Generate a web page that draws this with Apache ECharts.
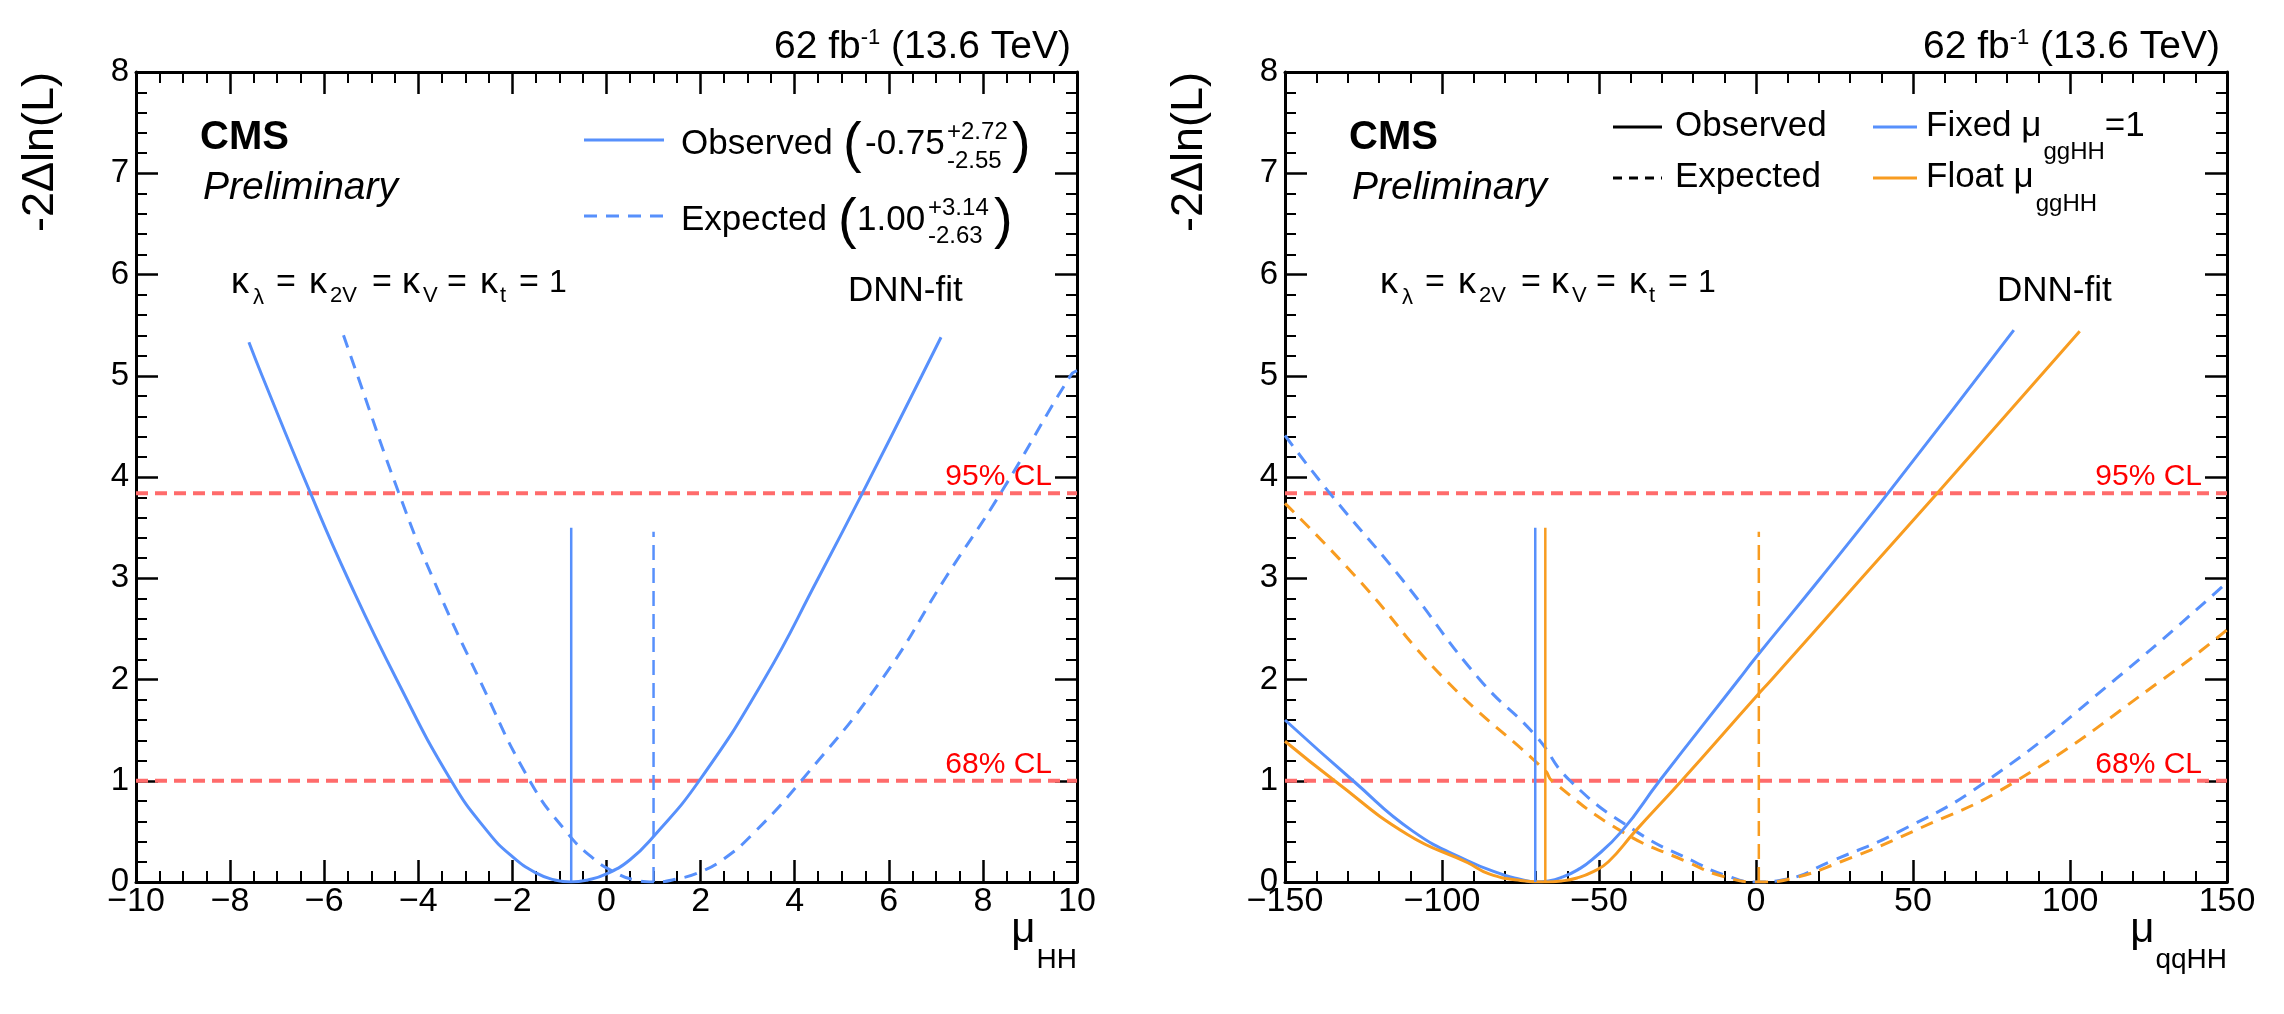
<!DOCTYPE html>
<html>
<head>
<meta charset="utf-8">
<script src="https://cdn.jsdelivr.net/npm/echarts@6/dist/echarts.min.js"></script>
<style>
html,body{margin:0;padding:0;background:#fff;}
#chart{width:2284px;height:1014px;}
</style>
</head>
<body>
<div id="chart"></div>
<script>
// ---------------- data ----------------
const CL_LEVELS = [1.0, 3.84];
const CL_LABELS = ['68% CL', '95% CL'];

// Left panel: mu_HH scan
const hhObsX = [-7.60, -7.32, -6.30, -5.50, -4.46, -3.30, -2.53, -2.00, -1.50, -1.10, -0.75, -0.40, 0.00, 0.50, 1.00, 1.97, 3.35, 4.50, 5.45, 6.70, 7.11];
const hhObsY = [5.33, 5.00, 3.85, 3.00, 2.00, 1.00, 0.50, 0.25, 0.09, 0.02, 0.00, 0.02, 0.08, 0.22, 0.45, 1.00, 2.00, 3.00, 3.85, 5.00, 5.38];
const hhExpX = [-5.59, -5.29, -4.42, -3.69, -2.70, -1.63, -0.86, -0.30, 0.20, 0.60, 1.00, 1.50, 2.00, 2.50, 3.10, 4.14, 5.85, 7.20, 8.39, 9.86, 10.00];
const hhExpY = [5.40, 5.00, 3.85, 3.00, 2.00, 1.00, 0.50, 0.24, 0.09, 0.02, 0.00, 0.03, 0.10, 0.23, 0.47, 1.00, 2.00, 3.00, 3.85, 5.00, 5.05];
const hhBestObs = -0.75;
const hhBestExp = 1.00;

// Right panel: mu_qqHH scan
const qqFixObsX = [-150, -128.3, -109.2, -91.8, -80.1, -75.5, -70.3, -66.1, -61.5, -56.8, -52.2, -42.8, -30.7, -5.5, 0, 20.5, 42.3, 82.1];
const qqFixObsY = [1.60, 1.00, 0.50, 0.21, 0.067, 0.03, 0.00, 0.01, 0.05, 0.12, 0.22, 0.50, 1.00, 2.00, 2.22, 3.00, 3.85, 5.45];
const qqFloObsX = [-150, -134.2, -111.0, -91.8, -85.0, -75.0, -67.1, -62.0, -57.0, -52.0, -47.0, -38.5, -23.7, 0, 5.0, 33.6, 58.0, 103.1];
const qqFloObsY = [1.39, 1.00, 0.47, 0.19, 0.08, 0.015, 0.00, 0.01, 0.04, 0.10, 0.20, 0.50, 1.00, 1.83, 2.00, 3.00, 3.85, 5.44];
const qqFixExpX = [-150, -136, -113, -88, -70.3, -59.2, -38.2, -19.6, -10, 0, 10, 23.5, 45.7, 73.6, 114.4, 150];
const qqFixExpY = [4.41, 3.85, 3.00, 2.00, 1.45, 1.00, 0.50, 0.20, 0.07, 0.00, 0.03, 0.20, 0.50, 1.00, 2.00, 2.96];
const qqFloExpX = [-150, -127, -99, -67.1, -65, -42.8, -22, -10, 1, 12, 27, 50, 83, 129.5, 150];
const qqFloExpY = [3.74, 3.00, 2.00, 1.10, 1.00, 0.50, 0.20, 0.05, 0.00, 0.04, 0.20, 0.50, 1.00, 2.00, 2.49];
const qqBestFixObs = -70.3;
const qqBestFloObs = -67.1;
const qqBestExp = 0.9;

const VLINE_TOP_OBS = 3.5;
const VLINE_TOP_EXP = 3.46;

const leftXRange = [-10, 10, 2];
const rightXRange = [-150, 150, 50];
const yRange = [0, 8, 1];

// ---------------- style ----------------
const FONT = "'Liberation Sans', Arial, Helvetica, sans-serif";
const BLUE = '#5790fc';
const ORANGE = '#f89c20';
const CLCOL = '#ff6b6b';
const pairs = (xs, ys) => xs.map((x, i) => [x, ys[i]]);
const fmtMinus = v => (v < 0 ? '\u2212' + Math.abs(v) : String(v));

const chart = echarts.init(document.getElementById('chart'), null, {renderer: 'canvas'});

function xAx(grid, range, pos, minorSplit) {
  return {
    type: 'value', gridIndex: grid, position: pos,
    min: range[0], max: range[1], interval: range[2],
    axisLine: {show: true, onZero: false, lineStyle: {color: '#000', width: 3}},
    axisTick: {show: true, inside: true, length: 22, lineStyle: {color: '#000', width: 2.5}},
    minorTick: {show: true, splitNumber: minorSplit, length: 11, lineStyle: {color: '#000', width: 2}},
    splitLine: {show: false}, minorSplitLine: {show: false},
    axisLabel: {show: pos === 'bottom', fontSize: 34, color: '#000', fontFamily: FONT, margin: 3, formatter: fmtMinus}
  };
}
function yAx(grid, pos) {
  return {
    type: 'value', gridIndex: grid, position: pos,
    min: yRange[0], max: yRange[1], interval: yRange[2],
    axisLine: {show: true, onZero: false, lineStyle: {color: '#000', width: 3}},
    axisTick: {show: true, inside: true, length: 22, lineStyle: {color: '#000', width: 2.5}},
    minorTick: {show: true, splitNumber: 5, length: 11, lineStyle: {color: '#000', width: 2}},
    splitLine: {show: false}, minorSplitLine: {show: false},
    axisLabel: {show: pos === 'left', fontSize: 33, color: '#000', fontFamily: FONT, margin: 7}
  };
}
function lineSeries(xi, yi, data, color, width, dash, smooth) {
  return {
    type: 'line', xAxisIndex: xi, yAxisIndex: yi, data: data,
    showSymbol: false, symbol: 'none', smooth: smooth ? 0.5 : false,
    lineStyle: {color: color, width: width, type: dash || 'solid'},
    silent: true, animation: false
  };
}

const series = [];
// left panel
CL_LEVELS.forEach(l => series.push(lineSeries(0, 0, [[leftXRange[0], l], [leftXRange[1], l]], CLCOL, 4, [12, 7])));
series.push(lineSeries(0, 0, pairs(hhExpX, hhExpY), BLUE, 3, [13, 9], true));
series.push(lineSeries(0, 0, pairs(hhObsX, hhObsY), BLUE, 3, 'solid', true));
series.push(lineSeries(0, 0, [[hhBestObs, 0], [hhBestObs, VLINE_TOP_OBS]], BLUE, 2.5));
series.push(lineSeries(0, 0, [[hhBestExp, 0], [hhBestExp, VLINE_TOP_EXP]], BLUE, 2.5, [15, 8]));
// right panel
CL_LEVELS.forEach(l => series.push(lineSeries(2, 2, [[rightXRange[0], l], [rightXRange[1], l]], CLCOL, 4, [12, 7])));
series.push(lineSeries(2, 2, pairs(qqFixExpX, qqFixExpY), BLUE, 3, [13, 9], true));
series.push(lineSeries(2, 2, pairs(qqFloExpX, qqFloExpY), ORANGE, 3, [13, 9], true));
series.push(lineSeries(2, 2, pairs(qqFixObsX, qqFixObsY), BLUE, 3, 'solid', true));
series.push(lineSeries(2, 2, pairs(qqFloObsX, qqFloObsY), ORANGE, 3, 'solid', true));
series.push(lineSeries(2, 2, [[qqBestFixObs, 0], [qqBestFixObs, VLINE_TOP_OBS]], BLUE, 2.5));
series.push(lineSeries(2, 2, [[qqBestFloObs, 0], [qqBestFloObs, VLINE_TOP_OBS]], ORANGE, 2.5));
series.push(lineSeries(2, 2, [[qqBestExp, 0], [qqBestExp, VLINE_TOP_EXP]], ORANGE, 2.5, [15, 8]));

// ---------------- text helpers ----------------
const mctx = document.createElement('canvas').getContext('2d');
function tw(text, size, weight, style) {
  mctx.font = (style || 'normal') + ' ' + (weight || 'normal') + ' ' + size + 'px ' + FONT;
  return mctx.measureText(text).width;
}
function T(x, y, text, size, o) {
  o = o || {};
  return {
    type: 'text', x: x, y: y, rotation: o.rotation || 0, silent: true,
    style: {
      text: text, fontSize: size, fontFamily: FONT, fill: o.fill || '#000',
      fontWeight: o.weight || 'normal', fontStyle: o.style || 'normal',
      align: o.align || 'left', verticalAlign: 'middle'
    }
  };
}
function L(x1, y1, x2, y2, color, width, dash) {
  return {type: 'line', silent: true, shape: {x1: x1, y1: y1, x2: x2, y2: y2},
    style: {stroke: color, lineWidth: width, lineDash: dash || null}};
}

const G = [];
function panelText(dx, right, xSub, frameRight) {
  // lumi title
  const t2 = ' (13.6 TeV)', t1 = '62 fb', sup = '-1';
  const x2 = right - tw(t2, 39);
  G.push(T(x2, 47.5, t2, 39));
  const xs = x2 - tw(sup, 22);
  G.push(T(xs, 38, sup, 22));
  G.push(T(xs, 47.5, t1, 39, {align: 'right'}));
  // CMS Preliminary
  G.push(T(200 + dx, 138, 'CMS', 40, {weight: 'bold'}));
  G.push(T(203 + dx, 188, 'Preliminary', 39, {style: 'italic'}));
  // kappa text
  const kap = [
    [231, 283, '\u03ba', 36], [253, 298, '\u03bb', 22], [276, 283, '=', 34],
    [309, 283, '\u03ba', 36], [330, 296, '2V', 22], [372, 283, '=', 34],
    [402, 283, '\u03ba', 36], [423, 296, 'V', 22], [447, 283, '=', 34],
    [480, 283, '\u03ba', 36], [500, 296, 't', 22], [519, 283, '=', 34],
    [549, 283, '1', 32]
  ];
  kap.forEach(k => G.push(T(k[0] + dx, k[1], k[2], k[3])));
  G.push(T(848 + dx, 291, 'DNN-fit', 35));
  // y title
  G.push(T(41 + dx, 72, '-2\u0394ln(L)', 45, {rotation: Math.PI / 2, align: 'right'}));
  // x title (right aligned to the axis end)
  const xsub = frameRight - tw(xSub, 28);
  G.push(T(xsub, 960, xSub, 28));
  G.push(T(xsub - 1, 930, '\u03bc', 42, {align: 'right'}));
}
panelText(0, 1071, 'HH', 1077);
panelText(1149, 2220, 'qqHH', 2227);

// left legend
G.push(L(584, 140, 664, 140, BLUE, 3));
G.push(T(681, 144.5, 'Observed', 35));
G.push(T(843, 146, '(', 56));
G.push(T(865, 144.5, '-0.75', 35));
G.push(T(947, 132, '+2.72', 24));
G.push(T(947, 161, '-2.55', 24));
G.push(T(1012, 146, ')', 56));
G.push(L(584, 216, 664, 216, BLUE, 3, [13, 9]));
G.push(T(681, 220, 'Expected', 35));
G.push(T(838, 222, '(', 56));
G.push(T(857, 220, '1.00', 35));
G.push(T(928, 208, '+3.14', 24));
G.push(T(928, 236, '-2.63', 24));
G.push(T(994, 222, ')', 56));

// right legend
G.push(L(1613, 127, 1662, 127, '#000', 3));
G.push(T(1675, 126, 'Observed', 35));
G.push(L(1613, 178, 1662, 178, '#000', 3, [9, 7]));
G.push(T(1675, 177, 'Expected', 35));
G.push(L(1873, 127, 1917, 127, BLUE, 3));
const fx = 1926 + tw('Fixed \u03bc', 35);
G.push(T(1926, 126, 'Fixed \u03bc', 35));
G.push(T(fx + 2, 152, 'ggHH', 24));
G.push(T(fx + 2 + tw('ggHH', 24), 126, '=1', 35));
G.push(L(1873, 178, 1917, 178, ORANGE, 3));
const flx = 1926 + tw('Float \u03bc', 35);
G.push(T(1926, 177, 'Float \u03bc', 35));
G.push(T(flx + 2, 204, 'ggHH', 24));

const option = {
  backgroundColor: '#fff',
  animation: false,
  grid: [
    {left: 136, top: 72, width: 941, height: 810, containLabel: false},
    {left: 1285, top: 72, width: 942, height: 810, containLabel: false}
  ],
  xAxis: [
    xAx(0, leftXRange, 'bottom', 4), xAx(0, leftXRange, 'top', 4),
    xAx(1, rightXRange, 'bottom', 5), xAx(1, rightXRange, 'top', 5)
  ],
  yAxis: [yAx(0, 'left'), yAx(0, 'right'), yAx(1, 'left'), yAx(1, 'right')],
  series: series,
  graphic: G
};
chart.setOption(option);

// CL labels positioned from data coordinates
const clG = [];
[[0, leftXRange], [1, rightXRange]].forEach(([gi, rng]) => {
  CL_LEVELS.forEach((lvl, i) => {
    const p = chart.convertToPixel({gridIndex: gi}, [rng[1], lvl]);
    clG.push(T(p[0] - 25, p[1] - 16, CL_LABELS[i], 30, {fill: '#ff0000', align: 'right'}));
  });
});
chart.setOption({graphic: G.concat(clG)});
</script>
</body>
</html>
